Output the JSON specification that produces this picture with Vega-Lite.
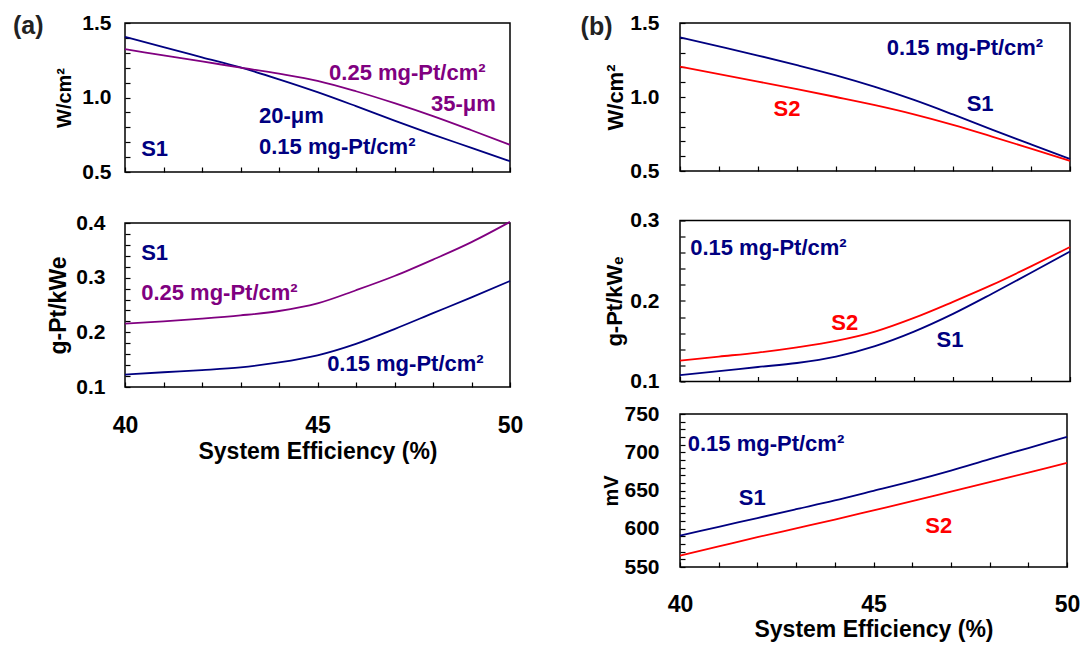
{
  "$schema": "https://vega.github.io/schema/vega-lite/v6.json",
  "background": "white",
  "padding": {"left": 12, "top": 11, "right": 0, "bottom": 0},
  "config": {
    "font": "Liberation Sans",
    "view": {"stroke": "black", "strokeWidth": 1.5},
    "axis": {
      "grid": false, "domain": false, "offset": -5,
      "ticks": true, "tickColor": "black", "tickWidth": 1.2, "tickSize": 5, "tickOpacity": 1,
      "labelFont": "Liberation Sans", "labelFontWeight": "bold", "labelColor": "black",
      "titleFont": "Liberation Sans", "titleFontWeight": "bold", "titleColor": "black",
      "labelOverlap": false, "labelFlush": false, "labelBound": false
    },
    "axisX": {"labelFontSize": 23, "titleFontSize": 23},
    "axisY": {"labelFontSize": 21, "titleFontSize": 20},
    "line": {"strokeWidth": 1.8, "interpolate": "monotone", "clip": true},
    "text": {"font": "Liberation Sans", "fontWeight": "bold", "fontSize": 22, "align": "left", "baseline": "middle"}
  },
  "datasets": {
    "curves": [
      {"panel": "a1", "series": "S1 · 0.15 mg-Pt/cm² · 20 μm", "x": 40, "y": 1.407},
      {"panel": "a1", "series": "S1 · 0.15 mg-Pt/cm² · 20 μm", "x": 41, "y": 1.338},
      {"panel": "a1", "series": "S1 · 0.15 mg-Pt/cm² · 20 μm", "x": 42, "y": 1.270},
      {"panel": "a1", "series": "S1 · 0.15 mg-Pt/cm² · 20 μm", "x": 43, "y": 1.202},
      {"panel": "a1", "series": "S1 · 0.15 mg-Pt/cm² · 20 μm", "x": 44, "y": 1.122},
      {"panel": "a1", "series": "S1 · 0.15 mg-Pt/cm² · 20 μm", "x": 45, "y": 1.036},
      {"panel": "a1", "series": "S1 · 0.15 mg-Pt/cm² · 20 μm", "x": 46, "y": 0.942},
      {"panel": "a1", "series": "S1 · 0.15 mg-Pt/cm² · 20 μm", "x": 47, "y": 0.845},
      {"panel": "a1", "series": "S1 · 0.15 mg-Pt/cm² · 20 μm", "x": 48, "y": 0.751},
      {"panel": "a1", "series": "S1 · 0.15 mg-Pt/cm² · 20 μm", "x": 49, "y": 0.662},
      {"panel": "a1", "series": "S1 · 0.15 mg-Pt/cm² · 20 μm", "x": 50, "y": 0.572},
      {"panel": "a1", "series": "S1 · 0.25 mg-Pt/cm² · 35 μm", "x": 40, "y": 1.324},
      {"panel": "a1", "series": "S1 · 0.25 mg-Pt/cm² · 35 μm", "x": 41, "y": 1.283},
      {"panel": "a1", "series": "S1 · 0.25 mg-Pt/cm² · 35 μm", "x": 42, "y": 1.242},
      {"panel": "a1", "series": "S1 · 0.25 mg-Pt/cm² · 35 μm", "x": 43, "y": 1.201},
      {"panel": "a1", "series": "S1 · 0.25 mg-Pt/cm² · 35 μm", "x": 44, "y": 1.160},
      {"panel": "a1", "series": "S1 · 0.25 mg-Pt/cm² · 35 μm", "x": 45, "y": 1.112},
      {"panel": "a1", "series": "S1 · 0.25 mg-Pt/cm² · 35 μm", "x": 46, "y": 1.042},
      {"panel": "a1", "series": "S1 · 0.25 mg-Pt/cm² · 35 μm", "x": 47, "y": 0.962},
      {"panel": "a1", "series": "S1 · 0.25 mg-Pt/cm² · 35 μm", "x": 48, "y": 0.875},
      {"panel": "a1", "series": "S1 · 0.25 mg-Pt/cm² · 35 μm", "x": 49, "y": 0.780},
      {"panel": "a1", "series": "S1 · 0.25 mg-Pt/cm² · 35 μm", "x": 50, "y": 0.682},
      {"panel": "a2", "series": "S1 · 0.25 mg-Pt/cm² · 35 μm", "x": 40, "y": 0.216},
      {"panel": "a2", "series": "S1 · 0.25 mg-Pt/cm² · 35 μm", "x": 41, "y": 0.220},
      {"panel": "a2", "series": "S1 · 0.25 mg-Pt/cm² · 35 μm", "x": 42, "y": 0.225},
      {"panel": "a2", "series": "S1 · 0.25 mg-Pt/cm² · 35 μm", "x": 43, "y": 0.231},
      {"panel": "a2", "series": "S1 · 0.25 mg-Pt/cm² · 35 μm", "x": 44, "y": 0.239},
      {"panel": "a2", "series": "S1 · 0.25 mg-Pt/cm² · 35 μm", "x": 45, "y": 0.253},
      {"panel": "a2", "series": "S1 · 0.25 mg-Pt/cm² · 35 μm", "x": 46, "y": 0.277},
      {"panel": "a2", "series": "S1 · 0.25 mg-Pt/cm² · 35 μm", "x": 47, "y": 0.303},
      {"panel": "a2", "series": "S1 · 0.25 mg-Pt/cm² · 35 μm", "x": 48, "y": 0.333},
      {"panel": "a2", "series": "S1 · 0.25 mg-Pt/cm² · 35 μm", "x": 49, "y": 0.365},
      {"panel": "a2", "series": "S1 · 0.25 mg-Pt/cm² · 35 μm", "x": 50, "y": 0.402},
      {"panel": "a2", "series": "S1 · 0.15 mg-Pt/cm² · 20 μm", "x": 40, "y": 0.1226},
      {"panel": "a2", "series": "S1 · 0.15 mg-Pt/cm² · 20 μm", "x": 41, "y": 0.127},
      {"panel": "a2", "series": "S1 · 0.15 mg-Pt/cm² · 20 μm", "x": 42, "y": 0.131},
      {"panel": "a2", "series": "S1 · 0.15 mg-Pt/cm² · 20 μm", "x": 43, "y": 0.136},
      {"panel": "a2", "series": "S1 · 0.15 mg-Pt/cm² · 20 μm", "x": 44, "y": 0.145},
      {"panel": "a2", "series": "S1 · 0.15 mg-Pt/cm² · 20 μm", "x": 45, "y": 0.158},
      {"panel": "a2", "series": "S1 · 0.15 mg-Pt/cm² · 20 μm", "x": 46, "y": 0.179},
      {"panel": "a2", "series": "S1 · 0.15 mg-Pt/cm² · 20 μm", "x": 47, "y": 0.206},
      {"panel": "a2", "series": "S1 · 0.15 mg-Pt/cm² · 20 μm", "x": 48, "y": 0.235},
      {"panel": "a2", "series": "S1 · 0.15 mg-Pt/cm² · 20 μm", "x": 49, "y": 0.264},
      {"panel": "a2", "series": "S1 · 0.15 mg-Pt/cm² · 20 μm", "x": 50, "y": 0.294},
      {"panel": "b1", "series": "S1 · 0.15 mg-Pt/cm² · 20 μm", "x": 40, "y": 1.403},
      {"panel": "b1", "series": "S1 · 0.15 mg-Pt/cm² · 20 μm", "x": 41, "y": 1.342},
      {"panel": "b1", "series": "S1 · 0.15 mg-Pt/cm² · 20 μm", "x": 42, "y": 1.280},
      {"panel": "b1", "series": "S1 · 0.15 mg-Pt/cm² · 20 μm", "x": 43, "y": 1.215},
      {"panel": "b1", "series": "S1 · 0.15 mg-Pt/cm² · 20 μm", "x": 44, "y": 1.146},
      {"panel": "b1", "series": "S1 · 0.15 mg-Pt/cm² · 20 μm", "x": 45, "y": 1.068},
      {"panel": "b1", "series": "S1 · 0.15 mg-Pt/cm² · 20 μm", "x": 46, "y": 0.980},
      {"panel": "b1", "series": "S1 · 0.15 mg-Pt/cm² · 20 μm", "x": 47, "y": 0.882},
      {"panel": "b1", "series": "S1 · 0.15 mg-Pt/cm² · 20 μm", "x": 48, "y": 0.780},
      {"panel": "b1", "series": "S1 · 0.15 mg-Pt/cm² · 20 μm", "x": 49, "y": 0.680},
      {"panel": "b1", "series": "S1 · 0.15 mg-Pt/cm² · 20 μm", "x": 50, "y": 0.581},
      {"panel": "b1", "series": "S2 · 0.15 mg-Pt/cm²", "x": 40, "y": 1.205},
      {"panel": "b1", "series": "S2 · 0.15 mg-Pt/cm²", "x": 41, "y": 1.155},
      {"panel": "b1", "series": "S2 · 0.15 mg-Pt/cm²", "x": 42, "y": 1.104},
      {"panel": "b1", "series": "S2 · 0.15 mg-Pt/cm²", "x": 43, "y": 1.053},
      {"panel": "b1", "series": "S2 · 0.15 mg-Pt/cm²", "x": 44, "y": 1.000},
      {"panel": "b1", "series": "S2 · 0.15 mg-Pt/cm²", "x": 45, "y": 0.945},
      {"panel": "b1", "series": "S2 · 0.15 mg-Pt/cm²", "x": 46, "y": 0.883},
      {"panel": "b1", "series": "S2 · 0.15 mg-Pt/cm²", "x": 47, "y": 0.812},
      {"panel": "b1", "series": "S2 · 0.15 mg-Pt/cm²", "x": 48, "y": 0.733},
      {"panel": "b1", "series": "S2 · 0.15 mg-Pt/cm²", "x": 49, "y": 0.651},
      {"panel": "b1", "series": "S2 · 0.15 mg-Pt/cm²", "x": 50, "y": 0.568},
      {"panel": "b2", "series": "S2 · 0.15 mg-Pt/cm²", "x": 40, "y": 0.126},
      {"panel": "b2", "series": "S2 · 0.15 mg-Pt/cm²", "x": 41, "y": 0.131},
      {"panel": "b2", "series": "S2 · 0.15 mg-Pt/cm²", "x": 42, "y": 0.136},
      {"panel": "b2", "series": "S2 · 0.15 mg-Pt/cm²", "x": 43, "y": 0.1425},
      {"panel": "b2", "series": "S2 · 0.15 mg-Pt/cm²", "x": 44, "y": 0.1505},
      {"panel": "b2", "series": "S2 · 0.15 mg-Pt/cm²", "x": 45, "y": 0.162},
      {"panel": "b2", "series": "S2 · 0.15 mg-Pt/cm²", "x": 46, "y": 0.179},
      {"panel": "b2", "series": "S2 · 0.15 mg-Pt/cm²", "x": 47, "y": 0.199},
      {"panel": "b2", "series": "S2 · 0.15 mg-Pt/cm²", "x": 48, "y": 0.220},
      {"panel": "b2", "series": "S2 · 0.15 mg-Pt/cm²", "x": 49, "y": 0.243},
      {"panel": "b2", "series": "S2 · 0.15 mg-Pt/cm²", "x": 50, "y": 0.267},
      {"panel": "b2", "series": "S1 · 0.15 mg-Pt/cm² · 20 μm", "x": 40, "y": 0.108},
      {"panel": "b2", "series": "S1 · 0.15 mg-Pt/cm² · 20 μm", "x": 41, "y": 0.113},
      {"panel": "b2", "series": "S1 · 0.15 mg-Pt/cm² · 20 μm", "x": 42, "y": 0.118},
      {"panel": "b2", "series": "S1 · 0.15 mg-Pt/cm² · 20 μm", "x": 43, "y": 0.123},
      {"panel": "b2", "series": "S1 · 0.15 mg-Pt/cm² · 20 μm", "x": 44, "y": 0.131},
      {"panel": "b2", "series": "S1 · 0.15 mg-Pt/cm² · 20 μm", "x": 45, "y": 0.144},
      {"panel": "b2", "series": "S1 · 0.15 mg-Pt/cm² · 20 μm", "x": 46, "y": 0.162},
      {"panel": "b2", "series": "S1 · 0.15 mg-Pt/cm² · 20 μm", "x": 47, "y": 0.184},
      {"panel": "b2", "series": "S1 · 0.15 mg-Pt/cm² · 20 μm", "x": 48, "y": 0.209},
      {"panel": "b2", "series": "S1 · 0.15 mg-Pt/cm² · 20 μm", "x": 49, "y": 0.235},
      {"panel": "b2", "series": "S1 · 0.15 mg-Pt/cm² · 20 μm", "x": 50, "y": 0.2615},
      {"panel": "b3", "series": "S1 · 0.15 mg-Pt/cm² · 20 μm", "x": 40, "y": 591},
      {"panel": "b3", "series": "S1 · 0.15 mg-Pt/cm² · 20 μm", "x": 41, "y": 602.5},
      {"panel": "b3", "series": "S1 · 0.15 mg-Pt/cm² · 20 μm", "x": 42, "y": 614},
      {"panel": "b3", "series": "S1 · 0.15 mg-Pt/cm² · 20 μm", "x": 43, "y": 625.5},
      {"panel": "b3", "series": "S1 · 0.15 mg-Pt/cm² · 20 μm", "x": 44, "y": 637},
      {"panel": "b3", "series": "S1 · 0.15 mg-Pt/cm² · 20 μm", "x": 45, "y": 649.6},
      {"panel": "b3", "series": "S1 · 0.15 mg-Pt/cm² · 20 μm", "x": 46, "y": 662.2},
      {"panel": "b3", "series": "S1 · 0.15 mg-Pt/cm² · 20 μm", "x": 47, "y": 676},
      {"panel": "b3", "series": "S1 · 0.15 mg-Pt/cm² · 20 μm", "x": 48, "y": 691},
      {"panel": "b3", "series": "S1 · 0.15 mg-Pt/cm² · 20 μm", "x": 49, "y": 705.5},
      {"panel": "b3", "series": "S1 · 0.15 mg-Pt/cm² · 20 μm", "x": 50, "y": 720},
      {"panel": "b3", "series": "S2 · 0.15 mg-Pt/cm²", "x": 40, "y": 565},
      {"panel": "b3", "series": "S2 · 0.15 mg-Pt/cm²", "x": 41, "y": 577},
      {"panel": "b3", "series": "S2 · 0.15 mg-Pt/cm²", "x": 42, "y": 589},
      {"panel": "b3", "series": "S2 · 0.15 mg-Pt/cm²", "x": 43, "y": 600.5},
      {"panel": "b3", "series": "S2 · 0.15 mg-Pt/cm²", "x": 44, "y": 612},
      {"panel": "b3", "series": "S2 · 0.15 mg-Pt/cm²", "x": 45, "y": 624},
      {"panel": "b3", "series": "S2 · 0.15 mg-Pt/cm²", "x": 46, "y": 636},
      {"panel": "b3", "series": "S2 · 0.15 mg-Pt/cm²", "x": 47, "y": 648.5},
      {"panel": "b3", "series": "S2 · 0.15 mg-Pt/cm²", "x": 48, "y": 661},
      {"panel": "b3", "series": "S2 · 0.15 mg-Pt/cm²", "x": 49, "y": 673.5},
      {"panel": "b3", "series": "S2 · 0.15 mg-Pt/cm²", "x": 50, "y": 686}
    ],
    "notes": [
      {"panel": "a1", "series": "S1 · 0.15 mg-Pt/cm² · 20 μm", "label": "S1", "x": 40.42, "y": 0.655},
      {"panel": "a1", "series": "S1 · 0.15 mg-Pt/cm² · 20 μm", "label": "20-μm", "x": 43.48, "y": 0.877},
      {"panel": "a1", "series": "S1 · 0.15 mg-Pt/cm² · 20 μm", "label": "0.15 mg-Pt/cm²", "x": 43.48, "y": 0.665},
      {"panel": "a1", "series": "S1 · 0.25 mg-Pt/cm² · 35 μm", "label": "0.25 mg-Pt/cm²", "x": 45.3, "y": 1.163},
      {"panel": "a1", "series": "S1 · 0.25 mg-Pt/cm² · 35 μm", "label": "35-μm", "x": 47.95, "y": 0.958},
      {"panel": "a2", "series": "S1 · 0.15 mg-Pt/cm² · 20 μm", "label": "S1", "x": 40.42, "y": 0.346},
      {"panel": "a2", "series": "S1 · 0.25 mg-Pt/cm² · 35 μm", "label": "0.25 mg-Pt/cm²", "x": 40.42, "y": 0.272},
      {"panel": "a2", "series": "S1 · 0.15 mg-Pt/cm² · 20 μm", "label": "0.15 mg-Pt/cm²", "x": 45.25, "y": 0.1426},
      {"panel": "b1", "series": "S1 · 0.15 mg-Pt/cm² · 20 μm", "label": "0.15 mg-Pt/cm²", "x": 45.3, "y": 1.334},
      {"panel": "b1", "series": "S1 · 0.15 mg-Pt/cm² · 20 μm", "label": "S1", "x": 47.35, "y": 0.956},
      {"panel": "b1", "series": "S2 · 0.15 mg-Pt/cm²", "label": "S2", "x": 42.40, "y": 0.916},
      {"panel": "b2", "series": "S1 · 0.15 mg-Pt/cm² · 20 μm", "label": "0.15 mg-Pt/cm²", "x": 40.26, "y": 0.2658},
      {"panel": "b2", "series": "S2 · 0.15 mg-Pt/cm²", "label": "S2", "x": 43.88, "y": 0.1727},
      {"panel": "b2", "series": "S1 · 0.15 mg-Pt/cm² · 20 μm", "label": "S1", "x": 46.58, "y": 0.151},
      {"panel": "b3", "series": "S1 · 0.15 mg-Pt/cm² · 20 μm", "label": "0.15 mg-Pt/cm²", "x": 40.2, "y": 710.8},
      {"panel": "b3", "series": "S1 · 0.15 mg-Pt/cm² · 20 μm", "label": "S1", "x": 41.52, "y": 640.2},
      {"panel": "b3", "series": "S2 · 0.15 mg-Pt/cm²", "label": "S2", "x": 46.34, "y": 603}
    ],
    "letters": [
      {"panel": "a1", "label": "(a)", "x": 37.09, "y": 1.48},
      {"panel": "b1", "label": "(b)", "x": 37.45, "y": 1.473}
    ]
  },
  "spacing": 55,
  "hconcat": [
    {
      "spacing": 28,
      "vconcat": [
        {
          "width": 385, "height": 149,
          "encoding": {
            "x": {"field": "x", "type": "quantitative", "scale": {"domain": [40, 50], "nice": false, "zero": false},
                  "axis": {"values": [40,41,42,43,44,45,46,47,48,49,50], "labels": false, "title": null}},
            "y": {"field": "y", "type": "quantitative", "scale": {"domain": [0.5, 1.5], "nice": false, "zero": false},
                  "axis": {"title": "W/cm²", "values": [0.5,0.6,0.7,0.8,0.9,1.0,1.1,1.2,1.3,1.4,1.5],
                           "labelExpr": "abs(datum.value*2-round(datum.value*2))<0.001 ? format(datum.value,'.1f') : ''",
                           "labelPadding": 14, "titlePadding": 7}}
          },
          "layer": [
            {"data": {"name": "curves"}, "transform": [{"filter": "datum.panel === 'a1'"}], "mark": {"type": "line"},
             "encoding": {"color": {"field": "series", "type": "nominal", "legend": null,
               "scale": {"domain": ["S1 · 0.15 mg-Pt/cm² · 20 μm", "S1 · 0.25 mg-Pt/cm² · 35 μm", "S2 · 0.15 mg-Pt/cm²"], "range": ["#000080", "#800080", "#ff0000"]}}}},
            {"data": {"name": "notes"}, "transform": [{"filter": "datum.panel === 'a1'"}], "mark": {"type": "text"},
             "encoding": {"text": {"field": "label"}, "color": {"field": "series", "type": "nominal", "legend": null}}},
            {"data": {"name": "letters"}, "transform": [{"filter": "datum.panel === 'a1'"}], "mark": {"type": "text", "fontSize": 25, "color": "#222222"},
             "encoding": {"text": {"field": "label"}}}
          ]
        },
        {
          "width": 385, "height": 164,
          "encoding": {
            "x": {"field": "x", "type": "quantitative", "scale": {"domain": [40, 50], "nice": false, "zero": false},
                  "axis": {"values": [40,41,42,43,44,45,46,47,48,49,50], "title": "System Efficiency (%)",
                           "labelExpr": "datum.value % 5 === 0 ? datum.label : ''", "labelPadding": 27, "titlePadding": 3}},
            "y": {"field": "y", "type": "quantitative", "scale": {"domain": [0.1, 0.4], "nice": false, "zero": false},
                  "axis": {"title": "g-Pt/kWe", "titleFontSize": 23, "values": [0.1,0.12,0.14,0.16,0.18,0.2,0.22,0.24,0.26,0.28,0.3,0.32,0.34,0.36,0.38,0.4],
                           "labelExpr": "abs(datum.value*10-round(datum.value*10))<0.001 ? format(datum.value,'.1f') : ''",
                           "labelPadding": 20, "titlePadding": 5}}
          },
          "layer": [
            {"data": {"name": "curves"}, "transform": [{"filter": "datum.panel === 'a2'"}], "mark": {"type": "line"},
             "encoding": {"color": {"field": "series", "type": "nominal", "legend": null}}},
            {"data": {"name": "notes"}, "transform": [{"filter": "datum.panel === 'a2'"}], "mark": {"type": "text"},
             "encoding": {"text": {"field": "label"}, "color": {"field": "series", "type": "nominal", "legend": null}}}
          ]
        }
      ]
    },
    {
      "spacing": 9.5,
      "vconcat": [
        {
          "width": 390, "height": 148,
          "encoding": {
            "x": {"field": "x", "type": "quantitative", "scale": {"domain": [40, 50], "nice": false, "zero": false},
                  "axis": {"values": [40,41,42,43,44,45,46,47,48,49,50], "labels": false, "title": null, "minExtent": 31.5}},
            "y": {"field": "y", "type": "quantitative", "scale": {"domain": [0.5, 1.5], "nice": false, "zero": false},
                  "axis": {"title": "W/cm²", "titleFontSize": 22, "values": [0.5,0.6,0.7,0.8,0.9,1.0,1.1,1.2,1.3,1.4,1.5],
                           "labelExpr": "abs(datum.value*2-round(datum.value*2))<0.001 ? format(datum.value,'.1f') : ''",
                           "labelPadding": 21, "titlePadding": 2}}
          },
          "layer": [
            {"data": {"name": "curves"}, "transform": [{"filter": "datum.panel === 'b1'"}], "mark": {"type": "line"},
             "encoding": {"color": {"field": "series", "type": "nominal", "legend": null}}},
            {"data": {"name": "notes"}, "transform": [{"filter": "datum.panel === 'b1'"}], "mark": {"type": "text"},
             "encoding": {"text": {"field": "label"}, "color": {"field": "series", "type": "nominal", "legend": null}}},
            {"data": {"name": "letters"}, "transform": [{"filter": "datum.panel === 'b1'"}], "mark": {"type": "text", "fontSize": 25, "color": "#222222"},
             "encoding": {"text": {"field": "label"}}}
          ]
        },
        {
          "width": 390, "height": 161,
          "encoding": {
            "x": {"field": "x", "type": "quantitative", "scale": {"domain": [40, 50], "nice": false, "zero": false},
                  "axis": {"values": [40,41,42,43,44,45,46,47,48,49,50], "labels": false, "title": null}},
            "y": {"field": "y", "type": "quantitative", "scale": {"domain": [0.1, 0.3], "nice": false, "zero": false},
                  "axis": {"title": "g-Pt/kWₑ", "titleFontSize": 22, "values": [0.1,0.12,0.14,0.16,0.18,0.2,0.22,0.24,0.26,0.28,0.3],
                           "labelExpr": "abs(datum.value*10-round(datum.value*10))<0.001 ? format(datum.value,'.1f') : ''",
                           "labelPadding": 21, "titlePadding": 3}}
          },
          "layer": [
            {"data": {"name": "curves"}, "transform": [{"filter": "datum.panel === 'b2'"}], "mark": {"type": "line"},
             "encoding": {"color": {"field": "series", "type": "nominal", "legend": null}}},
            {"data": {"name": "notes"}, "transform": [{"filter": "datum.panel === 'b2'"}], "mark": {"type": "text"},
             "encoding": {"text": {"field": "label"}, "color": {"field": "series", "type": "nominal", "legend": null}}}
          ]
        },
        {
          "width": 387, "height": 153,
          "encoding": {
            "x": {"field": "x", "type": "quantitative", "scale": {"domain": [40, 50], "nice": false, "zero": false},
                  "axis": {"values": [40,41,42,43,44,45,46,47,48,49,50], "title": "System Efficiency (%)",
                           "labelExpr": "datum.value % 5 === 0 ? datum.label : ''", "labelPadding": 26.5, "titlePadding": 2}},
            "y": {"field": "y", "type": "quantitative", "scale": {"domain": [550, 750], "nice": false, "zero": false},
                  "axis": {"title": "mV", "values": [550,560,570,580,590,600,610,620,630,640,650,660,670,680,690,700,710,720,730,740,750],
                           "labelExpr": "datum.value % 50 === 0 ? datum.label : ''",
                           "labelPadding": 21, "titlePadding": 2}}
          },
          "layer": [
            {"data": {"name": "curves"}, "transform": [{"filter": "datum.panel === 'b3'"}], "mark": {"type": "line"},
             "encoding": {"color": {"field": "series", "type": "nominal", "legend": null}}},
            {"data": {"name": "notes"}, "transform": [{"filter": "datum.panel === 'b3'"}], "mark": {"type": "text"},
             "encoding": {"text": {"field": "label"}, "color": {"field": "series", "type": "nominal", "legend": null}}}
          ]
        }
      ]
    }
  ]
}
